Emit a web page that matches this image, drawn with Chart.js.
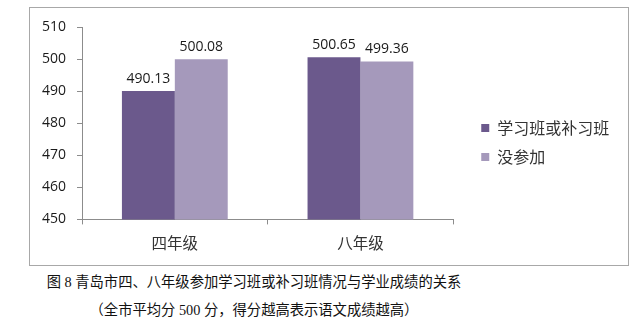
<!DOCTYPE html>
<html>
<head>
<meta charset="utf-8">
<script src="https://cdn.jsdelivr.net/npm/chart.js@4"></script>
<style>
  html, body { margin: 0; padding: 0; background: #fff; }
  #frame {
    position: absolute; left: 29px; top: 7px;
    width: 598px; height: 257px;
    border: 1px solid #a8a8a8;
  }
  #c { display: block; }
  .cap {
    position: absolute; left: 0; width: 508px; text-align: center;
    font-family: "Liberation Serif", "Noto Sans CJK SC", serif;
    font-size: 14.3px; color: #111; white-space: nowrap;
  }
</style>
</head>
<body>
<div id="frame"><canvas id="c" width="598" height="257"></canvas></div>
<div class="cap" style="top:270px">图 8 青岛市四、八年级参加学习班或补习班情况与学业成绩的关系</div>
<div class="cap" style="top:298px">（全市平均分 500 分，得分越高表示语文成绩越高）</div>
<script>
// 年级分类与两组平均分
var grades = ['四年级', '八年级'];
var attended = [490.13, 500.65];
var notAttended = [500.08, 499.36];
var yTicks = [450, 460, 470, 480, 490, 500, 510];

var darkPurple = '#6b598c';
var lightPurple = '#a599bb';

// 在柱顶上方写数值
var valueLabels = {
  id: 'valueLabels',
  afterDatasetsDraw: function(chart) {
    var ctx = chart.ctx;
    ctx.save();
    ctx.font = '14px "Open Sans", sans-serif';
    ctx.fillStyle = '#1a1a1a';
    ctx.textAlign = 'center';
    ctx.textBaseline = 'bottom';
    chart.data.datasets.forEach(function(ds, i) {
      chart.getDatasetMeta(i).data.forEach(function(bar, j) {
        ctx.fillText(ds.data[j].toFixed(2), bar.x, bar.y - 5);
      });
    });
    ctx.restore();
  }
};

// 图例左侧多留一点空：图例盒子加宽，再把它的左边挪回原处
var GAP = 15;
var legendGap = {
  id: 'legendGap',
  beforeLayout: function(chart) {
    var lg = chart.legend;
    if (lg && !lg._gapPatched) {
      var fit = lg.fit;
      lg.fit = function() { fit.call(this); this.width += GAP; };
      lg._gapPatched = true;
    }
  },
  afterLayout: function(chart) {
    if (chart.legend) chart.legend.left += GAP;
  }
};

new Chart(document.getElementById('c'), {
  type: 'bar',
  data: {
    labels: grades,
    datasets: [
      { label: '学习班或补习班', data: attended, backgroundColor: darkPurple },
      { label: '没参加', data: notAttended, backgroundColor: lightPurple }
    ]
  },
  options: {
    responsive: false,
    animation: false,
    layout: { padding: { left: 1, top: 16, right: 14, bottom: 4 } },
    datasets: { bar: { categoryPercentage: 0.57, barPercentage: 1.0 } },
    scales: {
      x: {
        grid: { drawOnChartArea: false, tickLength: 5, color: '#8c8c8c' },
        border: { color: '#8c8c8c' },
        ticks: { color: '#333', padding: 9, font: { family: '"Noto Sans CJK SC"', size: 15.5 } }
      },
      y: {
        min: yTicks[0],
        max: yTicks[yTicks.length - 1],
        afterBuildTicks: function(axis) {
          axis.ticks = yTicks.map(function(v) { return { value: v }; });
        },
        grid: { drawOnChartArea: false, tickLength: 5, color: '#8c8c8c' },
        border: { color: '#8c8c8c' },
        ticks: { color: '#1a1a1a', padding: 11, font: { family: '"Open Sans"', size: 14 } }
      }
    },
    plugins: {
      legend: {
        position: 'right',
        labels: {
          boxWidth: 8, boxHeight: 8, padding: 13,
          color: '#333',
          font: { family: '"Noto Sans CJK SC"', size: 16 }
        }
      },
      tooltip: { enabled: false }
    }
  },
  plugins: [valueLabels, legendGap]
});
</script>
</body>
</html>
